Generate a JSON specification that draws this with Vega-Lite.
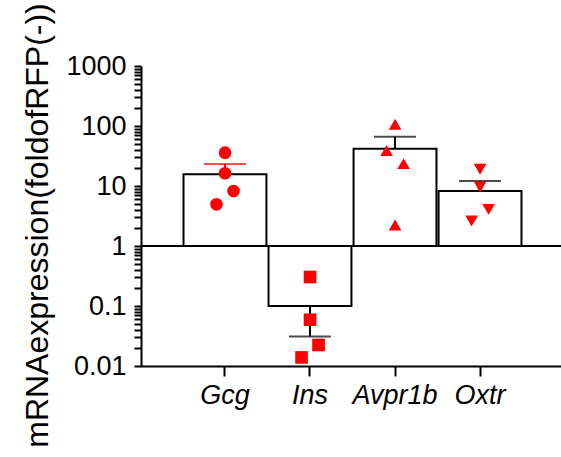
{
  "$schema": "https://vega.github.io/schema/vega-lite/v6.json",
  "autosize": "none",
  "padding": {"left": 141, "top": 66, "right": 0, "bottom": 91},
  "width": 423,
  "height": 300,
  "background": "white",
  "config": {
    "view": {"stroke": null},
    "font": "Liberation Sans",
    "axis": {"domainColor": "black", "tickColor": "black", "labelColor": "black", "titleColor": "black", "domainWidth": 2, "tickWidth": 2, "grid": false}
  },
  "datasets": {
    "bars": [
      {"gene": "Gcg", "mean": 15.7, "err": 23.3},
      {"gene": "Ins", "mean": 0.1, "err": 0.031},
      {"gene": "Avpr1b", "mean": 41.8, "err": 66.4},
      {"gene": "Oxtr", "mean": 8.25, "err": 12.1}
    ],
    "pts": [
      {"gene": "Gcg", "value": 35.9, "slot": "c"},
      {"gene": "Gcg", "value": 16.3, "slot": "c"},
      {"gene": "Gcg", "value": 8.26, "slot": "r"},
      {"gene": "Gcg", "value": 4.95, "slot": "l"},
      {"gene": "Ins", "value": 0.304, "slot": "c"},
      {"gene": "Ins", "value": 0.059, "slot": "c"},
      {"gene": "Ins", "value": 0.0224, "slot": "r"},
      {"gene": "Ins", "value": 0.0139, "slot": "l"},
      {"gene": "Avpr1b", "value": 107, "slot": "c"},
      {"gene": "Avpr1b", "value": 39, "slot": "l"},
      {"gene": "Avpr1b", "value": 23.6, "slot": "r"},
      {"gene": "Avpr1b", "value": 2.24, "slot": "c"},
      {"gene": "Oxtr", "value": 19, "slot": "c"},
      {"gene": "Oxtr", "value": 9.6, "slot": "c"},
      {"gene": "Oxtr", "value": 4.08, "slot": "r"},
      {"gene": "Oxtr", "value": 2.61, "slot": "l"}
    ]
  },
  "layer": [
    {
      "data": {"name": "bars"},
      "mark": {"type": "bar", "fill": "white", "stroke": "black", "strokeWidth": 2},
      "encoding": {
        "x": {
          "field": "gene", "type": "nominal",
          "sort": ["Gcg", "Ins", "Avpr1b", "Oxtr"],
          "scale": {"paddingInner": 0.025, "paddingOuter": 0.5},
          "axis": {"title": null, "labelAngle": 0, "labelFontSize": 27, "labelFontStyle": "italic", "tickSize": 10, "labelPadding": 6}
        },
        "y": {
          "field": "mean", "type": "quantitative",
          "scale": {"type": "log", "domain": [0.01, 1000], "nice": false},
          "axis": {
            "orient": "left",
            "values": [0.01,0.02,0.03,0.04,0.05,0.06,0.07,0.08,0.09,0.1,0.2,0.3,0.4,0.5,0.6,0.7,0.8,0.9,1,2,3,4,5,6,7,8,9,10,20,30,40,50,60,70,80,90,100,200,300,400,500,600,700,800,900,1000],
            "tickCount": 200,
            "labelExpr": "abs(log(datum.value)/LN10 - round(log(datum.value)/LN10)) > 0.001 ? '' : (datum.value >= 1 ? format(datum.value, 'd') : format(datum.value, '~g'))",
            "labelFontSize": 27,
            "tickSize": 7,
            "labelPadding": 8,
            "labelOverlap": false,
            "title": "mRNAexpression(foldofRFP(-))", "titleFontSize": 32, "titleFontWeight": "normal", "titleBaseline": "alphabetic", "titleX": -94, "titleY": 159, "titleAngle": 270
          }
        },
        "y2": {"datum": 1}
      }
    },
    {
      "data": {"name": "bars"},
      "mark": {"type": "rule", "strokeWidth": 2, "color": "black"},
      "encoding": {
        "y": {"datum": 1, "type": "quantitative"}
      }
    },
    {
      "data": {"name": "bars"},
      "mark": {"type": "rule", "strokeWidth": 2},
      "encoding": {
        "x": {"field": "gene", "type": "nominal", "sort": ["Gcg", "Ins", "Avpr1b", "Oxtr"]},
        "y": {"field": "mean", "type": "quantitative"},
        "y2": {"field": "err"},
        "color": {"field": "gene", "type": "nominal", "scale": {"domain": ["Gcg", "Ins", "Avpr1b", "Oxtr"], "range": ["#ff0000", "black", "black", "black"]}, "legend": null}
      }
    },
    {
      "data": {"name": "bars"},
      "mark": {"type": "tick", "size": 42, "thickness": 2, "orient": "horizontal"},
      "encoding": {
        "x": {"field": "gene", "type": "nominal", "sort": ["Gcg", "Ins", "Avpr1b", "Oxtr"]},
        "y": {"field": "err", "type": "quantitative"},
        "color": {"field": "gene", "type": "nominal", "legend": null}
      }
    },
    {
      "data": {"name": "pts"},
      "mark": {"type": "point", "filled": true, "opacity": 1, "size": 160, "color": "#ff0000"},
      "encoding": {
        "x": {"field": "gene", "type": "nominal", "sort": ["Gcg", "Ins", "Avpr1b", "Oxtr"]},
        "y": {"field": "value", "type": "quantitative"},
        "xOffset": {"field": "slot", "type": "nominal", "scale": {"type": "point", "domain": ["l", "c", "r"], "range": [33, 50], "padding": 0}},
        "shape": {"field": "gene", "type": "nominal", "scale": {"domain": ["Gcg", "Ins", "Avpr1b", "Oxtr"], "range": ["circle", "square", "triangle-up", "triangle-down"]}, "legend": null},
        "color": {"value": "#ff0000"}
      }
    }
  ],
  "resolve": {"scale": {"xOffset": "independent"}}
}
